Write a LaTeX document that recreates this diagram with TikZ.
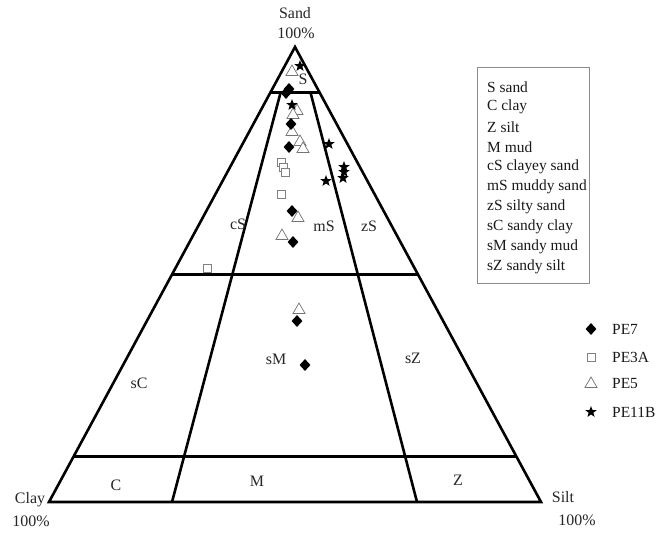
\documentclass[tikz,border=0pt]{standalone}
\usepackage{fontspec}
\setmainfont{Liberation Serif}
\usetikzlibrary{shapes.geometric,calc}
\begin{document}
\begin{tikzpicture}[x=1bp,y=-1bp,
 edge/.style={line width=2.6bp, line join=miter},
 lbl/.style={font=\fontsize{16}{18}\selectfont, text=black!85, inner sep=0},
 leg/.style={font=\fontsize{15.5}{18}\selectfont, text=black!90, anchor=west, inner sep=0},
 pe7/.style={diamond, fill=black, inner sep=0, minimum width=11bp, minimum height=12bp},
 pe3a/.style={rectangle, draw=black!50, fill=white, line width=0.7bp, minimum size=8bp, inner sep=0},
 pe5/.style={regular polygon, regular polygon sides=3, draw=black!55, fill=white, line width=0.7bp, minimum size=14bp, inner sep=0},
 pe11b/.style={star, star points=5, star point ratio=2.4, fill=black, minimum size=12bp, inner sep=0}]
\useasboundingbox (0,0) rectangle (659,533);
\fill[white] (0,0) rectangle (659,533);

% corners
\coordinate (sand) at (295,47);
\coordinate (clay) at (49,502);
\coordinate (silt) at (541,502);

% outer triangle
\draw[edge] (sand) -- (clay) -- (silt) -- cycle;

% horizontal lines
\coordinate (h1l) at ($(sand)!0.1!(clay)$);
\coordinate (h1r) at ($(sand)!0.1!(silt)$);
\coordinate (h2l) at ($(sand)!0.5!(clay)$);
\coordinate (h2r) at ($(sand)!0.5!(silt)$);
\coordinate (h3l) at ($(sand)!0.9!(clay)$);
\coordinate (h3r) at ($(sand)!0.9!(silt)$);
\draw[edge] (h1l) -- (h1r);
\draw[edge] (h2l) -- (h2r);
\draw[edge] (h3l) -- (h3r);

% inner ratio lines
\coordinate (ilt) at (280.6,92.5);
\coordinate (ilb) at (172,502);
\coordinate (irt) at (310.5,92.5);
\coordinate (irb) at (417,502);
\draw[edge] (ilt) -- (ilb);
\draw[edge] (irt) -- (irb);

% corner labels
\node[lbl] (tsand) at (295,13) {Sand};
\node[lbl] (tsandp) at (296,33) {100\%};
\node[lbl] (tclay) at (30,500) {Clay};
\node[lbl] (tclayp) at (31,521) {100\%};
\node[lbl] (tsilt) at (563,497) {Silt};
\node[lbl] (tsiltp) at (577,520) {100\%};

% field labels
\node[lbl] (fS) at (303,79) {S};
\node[lbl] (fcS) at (238,224) {cS};
\node[lbl] (fmS) at (324,226) {mS};
\node[lbl] (fzS) at (369,226) {zS};
\node[lbl] (fsC) at (139,383) {sC};
\node[lbl] (fsM) at (276,359) {sM};
\node[lbl] (fsZ) at (413,358) {sZ};
\node[lbl] (fC) at (116,485) {C};
\node[lbl] (fM) at (257,481) {M};
\node[lbl] (fZ) at (458,480) {Z};

% data: PE3A squares
\node[pe3a] (q1) at (281,162) {};
\node[pe3a] (q2) at (283,167) {};
\node[pe3a] (q3) at (285,172) {};
\node[pe3a] (q4) at (281,194) {};
\node[pe3a] (q5) at (207,268) {};

% data: PE5 triangles
\node[pe5] (t1) at (292,72) {};
\node[pe5] (t2) at (297,111) {};
\node[pe5] (t3) at (293,115) {};
\node[pe5] (t4) at (292,132) {};
\node[pe5] (t5) at (300,142) {};
\node[pe5] (t6) at (303,149) {};
\node[pe5] (t7) at (298,218) {};
\node[pe5] (t8) at (282,236) {};
\node[pe5] (t9) at (299,310) {};

% data: PE7 diamonds
\node[pe7] (d1) at (289,89) {};
\node[pe7] (d2) at (286,93) {};
\node[pe7] (d3) at (291,124) {};
\node[pe7] (d4) at (289,147) {};
\node[pe7] (d5) at (292,211) {};
\node[pe7] (d6) at (293,242) {};
\node[pe7] (d7) at (297,321) {};
\node[pe7] (d8) at (305,365) {};

% data: PE11B stars
\node[pe11b] (s1) at (300,66) {};
\node[pe11b] (s2) at (292,105) {};
\node[pe11b] (s3) at (329,144) {};
\node[pe11b] (s4) at (344,167) {};
\node[pe11b] (s5) at (344,172) {};
\node[pe11b] (s6) at (343,178) {};
\node[pe11b] (s7) at (326,181) {};

% legend box
\draw[black!45, line width=0.8bp] (477,67) rectangle (589,283);
\node[leg] (l1) at (487,87) {S sand};
\node[leg] (l2) at (487,107) {C clay};
\node[leg] (l3) at (487,127) {Z silt};
\node[leg] (l4) at (487,147) {M mud};
\node[leg] (l5) at (487,167) {cS clayey sand};
\node[leg] (l6) at (487,187) {mS muddy sand};
\node[leg] (l7) at (487,207) {zS silty sand};
\node[leg] (l8) at (487,227) {sC sandy clay};
\node[leg] (l9) at (487,247) {sM sandy mud};
\node[leg] (l10) at (487,267) {sZ sandy silt};

% marker legend
\node[pe7] (m1) at (591,329) {};
\node[pe3a] (m2) at (591,357) {};
\node[pe5] (m3) at (591,384) {};
\node[pe11b] (m4) at (591,412) {};
\node[leg] (k1) at (612,329) {PE7};
\node[leg] (k2) at (612,357) {PE3A};
\node[leg] (k3) at (612,384) {PE5};
\node[leg] (k4) at (612,412) {PE11B};
\end{tikzpicture}
\end{document}
